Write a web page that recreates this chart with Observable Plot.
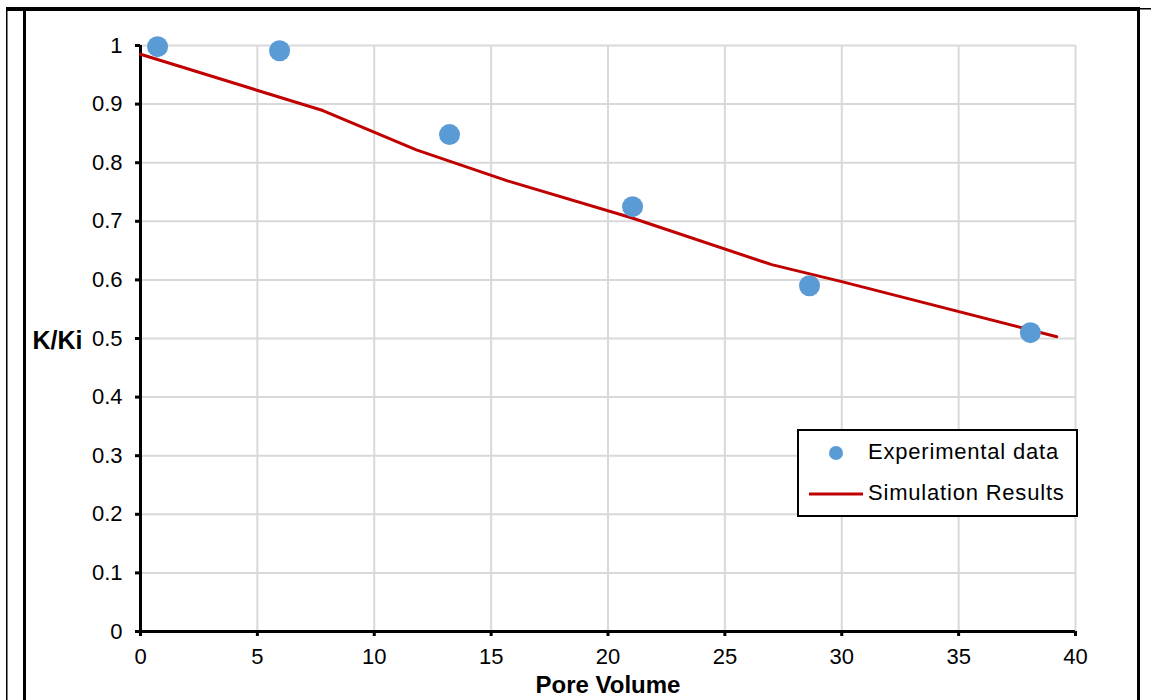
<!DOCTYPE html>
<html>
<head>
<meta charset="utf-8">
<script src="https://cdn.jsdelivr.net/npm/d3@7"></script>
<script src="https://cdn.jsdelivr.net/npm/@observablehq/plot@0.6"></script>
<style>
  body { margin: 0; background: #fff; font-family: "Liberation Sans", Arial, sans-serif; }
  #wrap { position: relative; width: 1151px; height: 700px; overflow: hidden; }
  #legend { position: absolute; left: 797px; top: 429px; width: 281px; height: 88px;
    border: 2px solid #000; background: #fff; box-sizing: border-box; font-size: 22px; letter-spacing: 0.8px; color: #000; }
  .txt { position: absolute; left: 69px; white-space: nowrap; line-height: 26px; }
</style>
</head>
<body>
<div id="wrap"></div>
<script>
const expPV = [0.73, 5.95, 13.22, 21.05, 28.62, 38.07];
const expK  = [0.998, 0.991, 0.848, 0.725, 0.590, 0.510];
const simPV = [0, 7.8, 11.8, 15.7, 21.0, 27.0, 30.0, 39.2];
const simK  = [0.985, 0.889, 0.822, 0.769, 0.706, 0.626, 0.597, 0.503];
const xTicks = [0, 5, 10, 15, 20, 25, 30, 35, 40];
const yTicks = [0, 0.1, 0.2, 0.3, 0.4, 0.5, 0.6, 0.7, 0.8, 0.9, 1];
const seriesNames = ["Experimental data", "Simulation Results"];

const exp = expPV.map((x, i) => ({x, y: expK[i]}));
const sim = simPV.map((x, i) => ({x, y: simK[i]}));

const plot = Plot.plot({
  width: 1151,
  height: 700,
  marginLeft: 140,
  marginRight: 76,
  marginTop: 45,
  marginBottom: 69,
  style: {fontFamily: "Liberation Sans, Arial, sans-serif", fontSize: "22px", color: "#000", background: "#fff"},
  x: {domain: [0, 40]},
  y: {domain: [0, 1]},
  marks: [
    Plot.gridX(xTicks, {stroke: "#d9d9d9", strokeOpacity: 1, strokeWidth: 2}),
    Plot.gridY(yTicks, {stroke: "#d9d9d9", strokeOpacity: 1, strokeWidth: 2}),
    Plot.axisX(xTicks, {tickSize: 5, tickPadding: 12, strokeWidth: 3, label: null, tickFormat: d => String(d), fontSize: 22}),
    Plot.axisY(yTicks, {tickSize: 5, tickPadding: 13, strokeWidth: 3, label: null, tickFormat: d => String(+d.toFixed(1)), fontSize: 22}),
    Plot.ruleX([0], {stroke: "#000", strokeWidth: 3}),
    Plot.ruleY([0], {stroke: "#000", strokeWidth: 3}),
    Plot.line(sim, {x: "x", y: "y", stroke: "#c00000", strokeWidth: 3}),
    Plot.dot(exp, {x: "x", y: "y", r: 10.5, fill: "#5b9bd5", stroke: "none"}),
    Plot.text(["K/Ki"], {frameAnchor: "left", dx: -108, dy: 2, textAnchor: "start", fontWeight: "bold", fontSize: 25}),
    Plot.text(["Pore Volume"], {frameAnchor: "bottom", dy: 61, fontWeight: "bold", fontSize: 24, letterSpacing: 1.2})
  ]
});

const svg = d3.select(plot);
// page frame lines
svg.append("rect").attr("x", 6).attr("y", 7).attr("width", 1134).attr("height", 4).attr("fill", "#000");
svg.append("rect").attr("x", 1140).attr("y", 8).attr("width", 11).attr("height", 1.5).attr("fill", "#000");
svg.append("rect").attr("x", 6).attr("y", 7).attr("width", 1.5).attr("height", 693).attr("fill", "#000");
svg.append("rect").attr("x", 23).attr("y", 9).attr("width", 3).attr("height", 691).attr("fill", "#000");
svg.append("rect").attr("x", 1137).attr("y", 9).attr("width", 3).attr("height", 691).attr("fill", "#000");

const wrap = document.getElementById("wrap");
wrap.appendChild(plot);

const lg = document.createElement("div");
lg.id = "legend";
lg.innerHTML = `
  <svg width="70" height="84" style="position:absolute;left:0;top:0">
    <circle cx="37" cy="22" r="7" fill="#5b9bd5"></circle>
    <line x1="10" x2="64" y1="63" y2="63" stroke="#c00000" stroke-width="3"></line>
  </svg>
  <div class="txt" style="top:8px">${seriesNames[0]}</div>
  <div class="txt" style="top:49px">${seriesNames[1]}</div>`;
wrap.appendChild(lg);
</script>
</body>
</html>
